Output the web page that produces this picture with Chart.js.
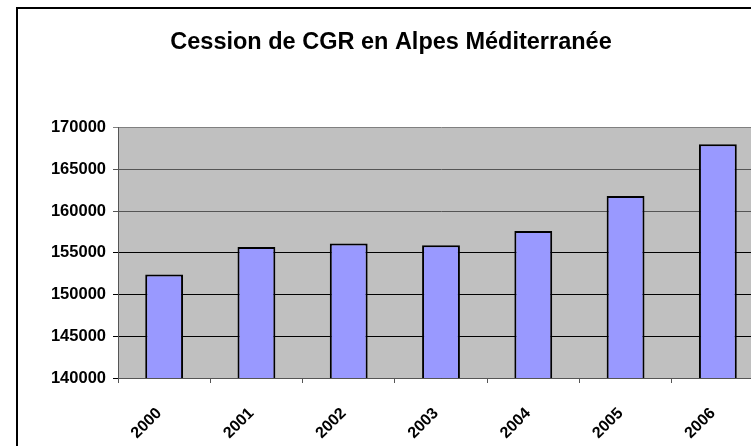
<!DOCTYPE html>
<html>
<head>
<meta charset="utf-8">
<script src="https://cdn.jsdelivr.net/npm/chart.js@4/dist/chart.umd.min.js"></script>
<style>
  html, body { margin: 0; padding: 0; background: #fff; overflow: hidden; width: 751px; height: 446px; }
  #frame { position: absolute; left: 16px; top: 7px; border: 2px solid #000; width: 748px; height: 440px; }
  #chart { display: block; }
</style>
</head>
<body>
<div id="frame"><canvas id="chart" width="748" height="440"></canvas></div>
<script>
// Cession de CGR
const years = ['2000', '2001', '2002', '2003', '2004', '2005', '2006'];
const cessions = [152400, 155700, 156100, 155900, 157600, 161800, 168000];
const yTicks = [140000, 145000, 150000, 155000, 160000, 165000, 170000];

const FONT = "'Liberation Sans', Arial, sans-serif";

// grey plot area like the old Excel default
const plotBackground = {
    id: 'plotBackground',
    beforeDraw: (chart) => {
        const { ctx, chartArea } = chart;
        ctx.save();
        ctx.fillStyle = '#c0c0c0';
        ctx.fillRect(chartArea.left, chartArea.top, chartArea.right - chartArea.left, chartArea.bottom - chartArea.top);
        ctx.restore();
    }
};

const gridColor = (ctx) => {
    const v = ctx.tick ? ctx.tick.value : null;
    if (v === 170000) return '#808080';
    if (v === 165000 || v === 160000) return '#555555';
    return '#000000';
};

new Chart(document.getElementById('chart'), {
    type: 'bar',
    data: {
        labels: years,
        datasets: [{
            data: cessions,
            backgroundColor: '#9999ff',
            borderColor: '#000000',
            borderWidth: 2,
            borderSkipped: false,
            categoryPercentage: 1,
            barPercentage: 0.41
        }]
    },
    options: {
        responsive: false,
        animation: false,
        layout: { padding: { top: 0, left: 0, right: 2, bottom: 0 } },
        plugins: {
            legend: { display: false },
            tooltip: { enabled: false },
            title: {
                display: true,
                text: 'Cession de CGR en Alpes Méditerranée',
                color: '#000',
                font: { family: FONT, size: 23.5, weight: 'bold', lineHeight: 1.2 },
                padding: { top: 19, bottom: 71.3 }
            }
        },
        scales: {
            x: {
                grid: { drawOnChartArea: false, tickLength: 5, color: '#555555' },
                border: { color: '#555555', width: 1 },
                ticks: {
                    color: '#000',
                    font: { family: FONT, size: 16, weight: 'bold' },
                    minRotation: 45,
                    maxRotation: 45,
                    autoSkip: false,
                    labelOffset: -5,
                    padding: 21
                },
                afterFit: (s) => { s.height = 71; }
            },
            y: {
                min: yTicks[0],
                max: yTicks[yTicks.length - 1],
                afterBuildTicks: (s) => { s.ticks = yTicks.map(v => ({ value: v })); },
                grid: { color: gridColor, tickLength: 5, lineWidth: 1 },
                border: { color: '#555555', width: 1 },
                ticks: {
                    color: '#000',
                    font: { family: FONT, size: 16.5, weight: 'bold' },
                    padding: 7,
                    callback: (v) => String(v)
                },
                afterFit: (s) => { s.width = 100; }
            }
        }
    },
    plugins: [plotBackground]
});
</script>
</body>
</html>
